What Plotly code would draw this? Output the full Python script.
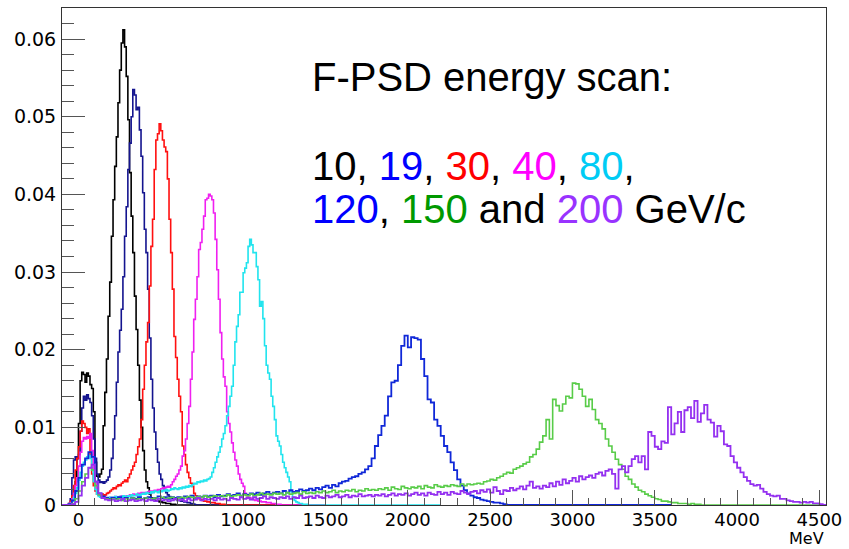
import plotly.graph_objects as go

# ---------------- data (bin contents) ----------------
X_MIN, X_MAX = -100, 4540

# 10 GeV (black), 10 MeV bins starting at -60 MeV
start_10 = -60
step_10 = 10
h10 = [0.0000, 0.0003, 0.0008, 0.0015, 0.0030, 0.0060,
       0.0105, 0.0160, 0.0171, 0.0168, 0.0158, 0.0170, 0.0166, 0.0155, 0.0150, 0.0120,
       0.0055, 0.0037, 0.0036, 0.0040, 0.0046, 0.0102, 0.0145, 0.0188, 0.0243, 0.0287,
       0.0346, 0.0393, 0.0436, 0.0474, 0.0518, 0.0560, 0.0595, 0.0612, 0.0590, 0.0552,
       0.0496, 0.0428, 0.0372, 0.0325, 0.0269, 0.0226, 0.0180, 0.0135, 0.0100, 0.0070,
       0.0045, 0.0030, 0.0022, 0.0014, 0.0009, 0.0007, 0.0006, 0.0005, 0.0005, 0.0004,
       0.0004, 0.0003, 0.0003, 0.0002, 0.0002, 0.0002, 0.0001, 0.0001, 0.0001, 0.0000]

# 19 GeV (navy)
h19 = [0.0002, 0.0008, 0.0035, 0.0058, 0.0062, 0.0060,
       0.0065, 0.0095, 0.0125, 0.0140, 0.0135, 0.0142, 0.0137, 0.0132, 0.0115, 0.0085,
       0.0060, 0.0040, 0.0032, 0.0029, 0.0030, 0.0028, 0.0030, 0.0032, 0.0036, 0.0045,
       0.0060, 0.0085, 0.0115, 0.0158, 0.0197, 0.0225, 0.0252, 0.0294, 0.0346, 0.0384,
       0.0432, 0.0466, 0.0500, 0.0535, 0.0528, 0.0509, 0.0512, 0.0483, 0.0449, 0.0402,
       0.0355, 0.0325, 0.0278, 0.0215, 0.0162, 0.0125, 0.0094, 0.0072, 0.0055, 0.0040,
       0.0033, 0.0025, 0.0020, 0.0016, 0.0013, 0.0011, 0.0009, 0.0008, 0.0008, 0.0007,
       0.0006, 0.0006, 0.0005, 0.0005, 0.0004, 0.0004, 0.0003, 0.0003, 0.0002, 0.0002,
       0.0001, 0.0000]

# 30 GeV (red)
h30 = [0.0002, 0.0005, 0.0012, 0.0025, 0.0045, 0.0060,
       0.0075, 0.0095, 0.0108, 0.0105, 0.0100, 0.0092, 0.0098, 0.0065, 0.0040, 0.0025,
       0.0018, 0.0014, 0.0013, 0.0012, 0.0014, 0.0012, 0.0013, 0.0015, 0.0016, 0.0018,
       0.0020, 0.0022, 0.0021, 0.0024, 0.0026, 0.0025, 0.0028, 0.0030, 0.0032, 0.0030,
       0.0035, 0.0040, 0.0045, 0.0050, 0.0055, 0.0065, 0.0075, 0.0085, 0.0110, 0.0149,
       0.0180, 0.0210, 0.0235, 0.0282, 0.0333, 0.0368, 0.0432, 0.0470, 0.0478, 0.0491,
       0.0482, 0.0470, 0.0461, 0.0455, 0.0420, 0.0368, 0.0325, 0.0278, 0.0217, 0.0190,
       0.0162, 0.0140, 0.0120, 0.0076, 0.0065, 0.0052, 0.0042, 0.0035, 0.0028, 0.0024,
       0.0015, 0.0012, 0.0010, 0.0008, 0.0007, 0.0006, 0.0005, 0.0005, 0.0004, 0.0004,
       0.0003, 0.0003, 0.0003, 0.0002, 0.0002, 0.0002, 0.0001, 0.0001, 0.0001, 0.0000]

# 40 GeV (magenta)
h40 = [0.0001, 0.0003, 0.0008, 0.0015, 0.0025, 0.0035,
       0.0050, 0.0068, 0.0082, 0.0087, 0.0085, 0.0088, 0.0086, 0.0092, 0.0070, 0.0045,
       0.0028, 0.0018, 0.0013, 0.0011, 0.0010, 0.0009, 0.0010, 0.0009, 0.0008, 0.0010,
       0.0009, 0.0010, 0.0011, 0.0009, 0.0010, 0.0011, 0.0012, 0.0010, 0.0011, 0.0012,
       0.0011, 0.0013, 0.0012, 0.0014, 0.0013, 0.0013, 0.0015, 0.0014, 0.0016, 0.0015,
       0.0016, 0.0015, 0.0017, 0.0018, 0.0016, 0.0018, 0.0019, 0.0018, 0.0020, 0.0019,
       0.0021, 0.0022, 0.0020, 0.0023, 0.0024, 0.0023, 0.0026, 0.0030, 0.0033, 0.0037,
       0.0040, 0.0045, 0.0050, 0.0063, 0.0070, 0.0085, 0.0105, 0.0127, 0.0162, 0.0197,
       0.0239, 0.0265, 0.0294, 0.0329, 0.0338, 0.0355, 0.0372, 0.0393, 0.0395, 0.0400,
       0.0398, 0.0393, 0.0376, 0.0342, 0.0303, 0.0265, 0.0222, 0.0188, 0.0165, 0.0153,
       0.0120, 0.0105, 0.0094, 0.0080, 0.0068, 0.0058, 0.0050, 0.0040, 0.0033, 0.0028,
       0.0024, 0.0015, 0.0012, 0.0010, 0.0009, 0.0008, 0.0007, 0.0006, 0.0006, 0.0005,
       0.0005, 0.0004, 0.0004, 0.0004, 0.0003, 0.0003, 0.0003, 0.0002, 0.0002, 0.0002,
       0.0001, 0.0001, 0.0001, 0.0000]

# 80 GeV (cyan)
h80 = [0.0001, 0.0002, 0.0005, 0.0010, 0.0015, 0.0022,
       0.0032, 0.0042, 0.0050, 0.0055, 0.0058, 0.0062, 0.0064, 0.0060, 0.0045, 0.0030,
       0.0020, 0.0014, 0.0011, 0.0010, 0.0009, 0.0010, 0.0009, 0.0008, 0.0010, 0.0009,
       0.0010, 0.0009, 0.0011, 0.0010, 0.0009, 0.0011, 0.0010, 0.0012, 0.0011, 0.0010,
       0.0012, 0.0011, 0.0013, 0.0012, 0.0012, 0.0014, 0.0013, 0.0012, 0.0014, 0.0015,
       0.0014, 0.0016, 0.0015, 0.0015, 0.0017, 0.0016, 0.0018, 0.0017, 0.0016, 0.0018,
       0.0017, 0.0019, 0.0018, 0.0020, 0.0018, 0.0019, 0.0021, 0.0020, 0.0022, 0.0021,
       0.0020, 0.0022, 0.0021, 0.0023, 0.0022, 0.0024, 0.0023, 0.0025, 0.0024, 0.0026,
       0.0028, 0.0027, 0.0030, 0.0029, 0.0031, 0.0030, 0.0032, 0.0031, 0.0033, 0.0034,
       0.0036, 0.0042, 0.0048, 0.0055, 0.0062, 0.0068, 0.0075, 0.0085, 0.0092, 0.0102,
       0.0115, 0.0127, 0.0140, 0.0153, 0.0180, 0.0210, 0.0230, 0.0245, 0.0274, 0.0274,
       0.0299, 0.0305, 0.0312, 0.0333, 0.0342, 0.0335, 0.0325, 0.0325, 0.0307, 0.0290,
       0.0256, 0.0262, 0.0240, 0.0205, 0.0180, 0.0170, 0.0162, 0.0140, 0.0127, 0.0110,
       0.0089, 0.0082, 0.0076, 0.0065, 0.0055, 0.0048, 0.0042, 0.0036, 0.0030, 0.0017,
       0.0010, 0.0006, 0.0004, 0.0003, 0.0002, 0.0002, 0.0001, 0.0001, 0.0001, 0.0000]

# wide peaks: 20 MeV bins starting at -60 MeV
start_20 = -60
step_20 = 20

# 120 GeV (blue)
h120 = [0.0001, 0.0006, 0.0018,
        0.0035, 0.0052, 0.0060, 0.0068, 0.0062, 0.0030, 0.0015, 0.0011, 0.0009, 0.0008,
        0.0009, 0.0008, 0.0010, 0.0008, 0.0009, 0.0007, 0.0009, 0.0008, 0.0010, 0.0008,
        0.0009, 0.0010, 0.0008, 0.0009, 0.0011, 0.0009, 0.0010, 0.0008, 0.0010, 0.0009,
        0.0010, 0.0009, 0.0011, 0.0010, 0.0012, 0.0009, 0.0011, 0.0010, 0.0012, 0.0011,
        0.0012, 0.0010, 0.0013, 0.0011, 0.0012, 0.0014, 0.0012, 0.0013, 0.0015, 0.0012,
        0.0014, 0.0013, 0.0015, 0.0014, 0.0016, 0.0013, 0.0015, 0.0017, 0.0014, 0.0016,
        0.0017, 0.0015, 0.0018, 0.0016, 0.0019, 0.0017, 0.0018, 0.0020, 0.0018, 0.0019,
        0.0021, 0.0019, 0.0022, 0.0020, 0.0023, 0.0025, 0.0022, 0.0026, 0.0024, 0.0028,
        0.0030, 0.0031, 0.0034, 0.0036, 0.0037, 0.0040, 0.0042, 0.0046, 0.0050, 0.0060,
        0.0076, 0.0090, 0.0102, 0.0115, 0.0140, 0.0158, 0.0160, 0.0180, 0.0205, 0.0218,
        0.0203, 0.0216, 0.0215, 0.0213, 0.0188, 0.0166, 0.0136, 0.0132, 0.0110, 0.0102,
        0.0089, 0.0076, 0.0068, 0.0055, 0.0045, 0.0033, 0.0025, 0.0019, 0.0015, 0.0012,
        0.0010, 0.0009, 0.0007, 0.0006, 0.0005, 0.0004, 0.0003, 0.0003, 0.0002, 0.0001]

# 150 GeV (green)
h150 = [0.0000, 0.0002, 0.0008,
        0.0018, 0.0030, 0.0040, 0.0048, 0.0045, 0.0025, 0.0013, 0.0009, 0.0008, 0.0007,
        0.0008, 0.0007, 0.0008, 0.0006, 0.0008, 0.0007, 0.0009, 0.0007, 0.0008, 0.0008,
        0.0009, 0.0007, 0.0008, 0.0009, 0.0008, 0.0010, 0.0008, 0.0009, 0.0010, 0.0008,
        0.0009, 0.0010, 0.0009, 0.0011, 0.0010, 0.0009, 0.0011, 0.0010, 0.0012, 0.0010,
        0.0011, 0.0012, 0.0010, 0.0012, 0.0011, 0.0013, 0.0011, 0.0012, 0.0013, 0.0012,
        0.0013, 0.0012, 0.0014, 0.0012, 0.0013, 0.0015, 0.0013, 0.0014, 0.0013, 0.0015,
        0.0014, 0.0015, 0.0013, 0.0016, 0.0014, 0.0015, 0.0016, 0.0014, 0.0017, 0.0015,
        0.0016, 0.0015, 0.0017, 0.0016, 0.0018, 0.0016, 0.0017, 0.0019, 0.0016, 0.0018,
        0.0017, 0.0019, 0.0018, 0.0020, 0.0017, 0.0019, 0.0018, 0.0021, 0.0019, 0.0020,
        0.0019, 0.0021, 0.0020, 0.0022, 0.0019, 0.0023, 0.0021, 0.0020, 0.0024, 0.0022,
        0.0021, 0.0023, 0.0022, 0.0024, 0.0021, 0.0025, 0.0023, 0.0022, 0.0026, 0.0024,
        0.0023, 0.0025, 0.0024, 0.0026, 0.0025, 0.0024, 0.0027, 0.0025, 0.0027, 0.0026,
        0.0027, 0.0028, 0.0027, 0.0030, 0.0031, 0.0033, 0.0032, 0.0035, 0.0037, 0.0040,
        0.0042, 0.0041, 0.0046, 0.0048, 0.0050, 0.0053, 0.0055, 0.0062, 0.0065, 0.0072,
        0.0081, 0.0089, 0.0110, 0.0085, 0.0136, 0.0128, 0.0121, 0.0130, 0.0140, 0.0138,
        0.0157, 0.0156, 0.0149, 0.0140, 0.0127, 0.0136, 0.0123, 0.0110, 0.0105, 0.0098,
        0.0085, 0.0076, 0.0068, 0.0059, 0.0052, 0.0046, 0.0037, 0.0033, 0.0027, 0.0023,
        0.0019, 0.0017, 0.0014, 0.0012, 0.0010, 0.0008, 0.0007, 0.0005, 0.0005, 0.0004,
        0.0003, 0.0003, 0.0002, 0.0002, 0.0002, 0.0001, 0.0002, 0.0001, 0.0001, 0.0000]

# 200 GeV (purple)
h200 = [0.0000, 0.0001, 0.0004,
        0.0012, 0.0025, 0.0035, 0.0048, 0.0052, 0.0030, 0.0015, 0.0009, 0.0007, 0.0006,
        0.0007, 0.0005, 0.0006, 0.0008, 0.0005, 0.0006, 0.0007, 0.0005, 0.0006, 0.0007,
        0.0005, 0.0007, 0.0006, 0.0005, 0.0008, 0.0006, 0.0007, 0.0005, 0.0006, 0.0008,
        0.0006, 0.0007, 0.0005, 0.0008, 0.0006, 0.0007, 0.0009, 0.0006, 0.0008, 0.0007,
        0.0008, 0.0006, 0.0009, 0.0007, 0.0008, 0.0006, 0.0009, 0.0008, 0.0007, 0.0010,
        0.0008, 0.0009, 0.0007, 0.0010, 0.0008, 0.0009, 0.0011, 0.0008, 0.0010, 0.0009,
        0.0008, 0.0010, 0.0009, 0.0011, 0.0008, 0.0010, 0.0009, 0.0012, 0.0009, 0.0010,
        0.0011, 0.0009, 0.0012, 0.0010, 0.0009, 0.0012, 0.0010, 0.0011, 0.0013, 0.0010,
        0.0011, 0.0013, 0.0010, 0.0012, 0.0011, 0.0014, 0.0011, 0.0012, 0.0013, 0.0011,
        0.0013, 0.0012, 0.0014, 0.0011, 0.0013, 0.0015, 0.0012, 0.0014, 0.0013, 0.0015,
        0.0012, 0.0014, 0.0016, 0.0013, 0.0015, 0.0012, 0.0016, 0.0014, 0.0013, 0.0017,
        0.0014, 0.0016, 0.0013, 0.0017, 0.0015, 0.0014, 0.0018, 0.0016, 0.0014, 0.0017,
        0.0018, 0.0015, 0.0019, 0.0017, 0.0020, 0.0016, 0.0023, 0.0018, 0.0014, 0.0019,
        0.0018, 0.0022, 0.0019, 0.0021, 0.0024, 0.0020, 0.0025, 0.0030, 0.0022, 0.0024,
        0.0021, 0.0025, 0.0023, 0.0028, 0.0024, 0.0030, 0.0026, 0.0033, 0.0028, 0.0031,
        0.0035, 0.0030, 0.0037, 0.0033, 0.0036, 0.0038, 0.0035, 0.0040, 0.0042, 0.0038,
        0.0044, 0.0046, 0.0040, 0.0021, 0.0046, 0.0050, 0.0042, 0.0050, 0.0059, 0.0063,
        0.0055, 0.0063, 0.0046, 0.0094, 0.0089, 0.0075, 0.0072, 0.0082, 0.0080, 0.0126,
        0.0091, 0.0105, 0.0120, 0.0094, 0.0122, 0.0126, 0.0112, 0.0134, 0.0107, 0.0118,
        0.0129, 0.0110, 0.0106, 0.0088, 0.0102, 0.0095, 0.0078, 0.0076, 0.0063, 0.0055,
        0.0048, 0.0042, 0.0036, 0.0031, 0.0027, 0.0025, 0.0026, 0.0021, 0.0017, 0.0014,
        0.0012, 0.0011, 0.0012, 0.0008, 0.0008, 0.0006, 0.0005, 0.0004, 0.0004, 0.0003,
        0.0004, 0.0003, 0.0004, 0.0002, 0.0002, 0.0001]

# name, values, start, step, end of histogram range, colour, width
series = [
    ("10 GeV/c", h10, start_10, step_10, 1500, "#000000", 1.6),
    ("19 GeV/c", h19, start_10, step_10, 1500, "#14148f", 1.6),
    ("30 GeV/c", h30, start_10, step_10, 1500, "#ff1010", 1.6),
    ("40 GeV/c", h40, start_10, step_10, 1500, "#f020f0", 1.6),
    ("80 GeV/c", h80, start_10, step_10, 2200, "#20e4ee", 1.6),
    ("120 GeV/c", h120, start_20, step_20, 3600, "#1028d8", 1.8),
    ("150 GeV/c", h150, start_20, step_20, X_MAX, "#58cc48", 1.6),
    ("200 GeV/c", h200, start_20, step_20, X_MAX, "#9430f0", 1.8),
]

fig = go.Figure()
for name, vals, start, step, end, color, w in series:
    # empty bins before and after the filled part of the histogram range
    pre = []
    e = start - step
    while e >= X_MIN:
        pre.insert(0, e)
        e -= step
    edges = pre + [start + step * i for i in range(len(vals))]
    ys = [0.0] * len(pre) + list(vals)
    e = edges[-1] + step
    while e < end:
        edges.append(e)
        ys.append(0.0)
        e += step
    edges.append(edges[-1] + step)
    ys.append(ys[-1])
    fig.add_trace(go.Scatter(x=edges, y=ys, mode="lines", name=name,
                             line=dict(color=color, width=w, shape="hv"),
                             showlegend=False, hoverinfo="skip"))

x_ticks = [0, 500, 1000, 1500, 2000, 2500, 3000, 3500, 4000, 4500]
y_ticks = [0, 0.01, 0.02, 0.03, 0.04, 0.05, 0.06]
y_ticktext = ["0", "0.01", "0.02", "0.03", "0.04", "0.05", "0.06"]

FONT = "Liberation Sans, Arial, Helvetica, sans-serif"
TICKFONT = "DejaVu Sans, Liberation Sans, sans-serif"
tickc = "#555555"

fig.update_layout(
    width=849, height=549,
    margin=dict(l=62, r=20, t=7, b=44),
    paper_bgcolor="white", plot_bgcolor="white",
    font=dict(family=TICKFONT, size=19, color="black"),
    xaxis=dict(range=[X_MIN, X_MAX], tickvals=x_ticks, ticks="inside", ticklen=15,
               tickwidth=1, tickcolor=tickc, showline=True, mirror=True,
               linecolor="#333333", linewidth=1, showgrid=False, zeroline=False,
               tickfont=dict(size=18, family=TICKFONT), ticklabelstandoff=-2,
               minor=dict(dtick=100, tick0=0, ticks="inside", ticklen=7.5,
                          tickcolor=tickc, showgrid=False)),
    yaxis=dict(range=[0, 0.064], tickvals=y_ticks, ticktext=y_ticktext,
               ticks="inside", ticklen=23, tickwidth=1, tickcolor=tickc,
               showline=True, mirror=True, linecolor="#333333", linewidth=1,
               showgrid=False, zeroline=False, tickfont=dict(size=19, family=TICKFONT),
               ticklabelstandoff=1,
               minor=dict(dtick=0.002, tick0=0, ticks="inside", ticklen=11.5,
                          tickcolor=tickc, showgrid=False)),
)

big = 40
fig.add_annotation(xref="paper", yref="paper", x=0.325, y=0.861, xanchor="left",
                   yanchor="middle", showarrow=False,
                   text="F-PSD energy scan:", font=dict(family=FONT, size=big, color="black"))
fig.add_annotation(xref="paper", yref="paper", x=0.325, y=0.683, xanchor="left",
                   yanchor="middle", showarrow=False,
                   text=("<span style='color:#000000'>10</span>, "
                         "<span style='color:#0000ff'>19</span>, "
                         "<span style='color:#ff0000'>30</span>, "
                         "<span style='color:#ff00ff'>40</span>, "
                         "<span style='color:#00ccf5'>80</span>,"),
                   font=dict(family=FONT, size=big, color="black"))
fig.add_annotation(xref="paper", yref="paper", x=0.325, y=0.596, xanchor="left",
                   yanchor="middle", showarrow=False,
                   text=("<span style='color:#0000ff'>120</span>, "
                         "<span style='color:#009900'>150</span> and "
                         "<span style='color:#9933ff'>200</span> GeV/c"),
                   font=dict(family=FONT, size=big, color="black"))
fig.add_annotation(xref="paper", yref="paper", x=1.0, y=-0.0683, xanchor="right",
                   yanchor="middle", showarrow=False, text="MeV",
                   font=dict(family=TICKFONT, size=16, color="black"))

fig.write_html("out.html")
